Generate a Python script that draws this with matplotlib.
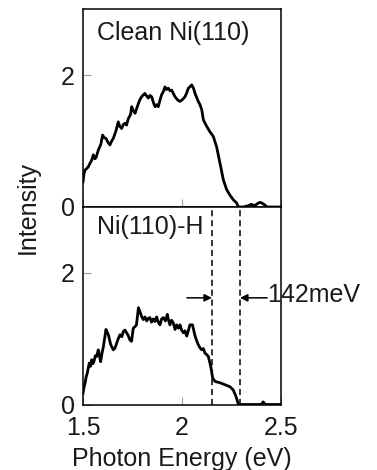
import numpy as np
import matplotlib
matplotlib.use("Agg")
import matplotlib.pyplot as plt

# spectra (photon energy in eV, intensity arb. units)
clean_energy = [1.500, 1.505, 1.510, 1.518, 1.527, 1.535, 1.544, 1.552, 1.560, 1.566,
                1.577, 1.590, 1.599, 1.607, 1.616, 1.626, 1.636, 1.645, 1.653, 1.666,
                1.678, 1.686, 1.695, 1.704, 1.712, 1.720, 1.729, 1.740, 1.746, 1.754,
                1.763, 1.772, 1.780, 1.788, 1.796, 1.805, 1.813, 1.822, 1.830, 1.838,
                1.847, 1.856, 1.864, 1.872, 1.880, 1.889, 1.897, 1.906, 1.914, 1.922,
                1.931, 1.940, 1.948, 1.956, 1.965, 1.978, 1.990, 2.003, 2.015, 2.024,
                2.032, 2.040, 2.049, 2.058, 2.066, 2.082, 2.091, 2.100, 2.108, 2.125,
                2.141, 2.158, 2.175, 2.192, 2.209, 2.226, 2.242, 2.259, 2.276, 2.285,
                2.310, 2.335, 2.350, 2.367, 2.385, 2.397, 2.414, 2.430, 2.500]
clean_intensity = [0.38, 0.50, 0.56, 0.58, 0.61, 0.66, 0.71, 0.79, 0.73, 0.75,
                   0.86, 0.95, 1.09, 1.05, 1.04, 0.98, 0.94, 1.00, 1.04, 1.15,
                   1.29, 1.22, 1.19, 1.25, 1.27, 1.24, 1.34, 1.40, 1.52, 1.46,
                   1.42, 1.50, 1.57, 1.63, 1.67, 1.70, 1.72, 1.68, 1.65, 1.69,
                   1.67, 1.58, 1.52, 1.55, 1.52, 1.62, 1.70, 1.75, 1.82, 1.78,
                   1.80, 1.76, 1.77, 1.72, 1.67, 1.62, 1.60, 1.63, 1.67, 1.73,
                   1.80, 1.82, 1.85, 1.80, 1.72, 1.60, 1.55, 1.47, 1.32, 1.22,
                   1.14, 1.07, 0.91, 0.66, 0.41, 0.26, 0.18, 0.11, 0.06, 0.00,
                   0.00, 0.02, 0.04, 0.02, 0.06, 0.07, 0.04, 0.00, 0.00]

h_energy = [1.500, 1.505, 1.510, 1.516, 1.522, 1.527, 1.532, 1.538, 1.544, 1.550,
            1.556, 1.562, 1.569, 1.577, 1.583, 1.589, 1.596, 1.603, 1.610, 1.616,
            1.622, 1.628, 1.640, 1.653, 1.662, 1.670, 1.678, 1.687, 1.696, 1.704,
            1.712, 1.720, 1.728, 1.737, 1.745, 1.754, 1.762, 1.770, 1.780, 1.785,
            1.790, 1.797, 1.805, 1.813, 1.822, 1.830, 1.838, 1.846, 1.855, 1.863,
            1.872, 1.880, 1.889, 1.897, 1.906, 1.916, 1.926, 1.932, 1.939, 1.947,
            1.956, 1.965, 1.973, 1.982, 1.990, 1.998, 2.007, 2.015, 2.024, 2.032,
            2.040, 2.053, 2.066, 2.074, 2.082, 2.091, 2.100, 2.108, 2.116, 2.124,
            2.133, 2.145, 2.155, 2.167, 2.192, 2.217, 2.242, 2.259, 2.273, 2.285,
            2.400, 2.410, 2.420, 2.500]
h_intensity = [0.17, 0.26, 0.32, 0.42, 0.48, 0.56, 0.63, 0.58, 0.68, 0.62,
               0.66, 0.74, 0.73, 0.83, 0.74, 0.65, 0.78, 0.88, 1.02, 1.14,
               1.10, 1.06, 0.91, 0.83, 0.86, 0.93, 1.00, 1.06, 1.03, 1.11,
               1.13, 1.09, 1.05, 0.98, 0.96, 1.16, 1.18, 1.21, 1.47, 1.43,
               1.39, 1.33, 1.29, 1.33, 1.27, 1.31, 1.32, 1.25, 1.30, 1.26,
               1.33, 1.25, 1.21, 1.30, 1.32, 1.27, 1.37, 1.28, 1.21, 1.28,
               1.24, 1.14, 1.21, 1.16, 1.21, 1.13, 1.09, 1.12, 1.04, 1.12,
               1.21, 1.21, 1.04, 0.97, 0.91, 0.86, 0.83, 0.85, 0.78, 0.76,
               0.73, 0.58, 0.40, 0.35, 0.33, 0.30, 0.27, 0.22, 0.12, 0.00,
               0.00, 0.04, 0.00, 0.00]

edges = [2.151, 2.293]      # onset of the two spectra
shift_label = "142meV"
x_ticks = [1.5, 2, 2.5]
x_ticklabels = ["1.5", "2", "2.5"]
y_ticks = [0, 2]

plt.rcParams["font.family"] = ["Liberation Sans", "DejaVu Sans"]
fs = 18

fig = plt.figure(figsize=(3.77, 4.70), dpi=100)
left, width = 83 / 377, 198 / 377
ax_top = fig.add_axes([left, 1 - 207 / 470, width, 198 / 470])
ax_bot = fig.add_axes([left, 1 - 404.5 / 470, width, 197.5 / 470])

for ax in (ax_top, ax_bot):
    ax.set_xlim(1.5, 2.5)
    ax.set_ylim(0, 3)
    ax.set_xticks(x_ticks)
    ax.set_yticks(y_ticks)
    ax.tick_params(direction="in", length=6, width=0.8, color="#a0a0a0",
                   labelsize=fs, labelcolor="#1a1a1a", pad=6)
    for sp in ax.spines.values():
        sp.set_linewidth(1.1)

ax_top.tick_params(axis="x", labelbottom=False)
ax_bot.set_xticklabels(x_ticklabels)
ax_bot.tick_params(axis="x", pad=8)

ax_top.plot(clean_energy, clean_intensity, color="k", lw=2)
ax_bot.plot(h_energy, h_intensity, color="k", lw=2)

ax_top.text(1.57, 2.64, "Clean Ni(110)", fontsize=fs, va="center", color="#1a1a1a")
ax_bot.text(1.57, 2.70, "Ni(110)-H", fontsize=fs, va="center", color="#1a1a1a")

for e in edges:
    ax_bot.axvline(e, color="k", lw=1.1, linestyle=(0, (4, 2.5)))

arrow_y = 1.62
ax_bot.annotate("", xy=(edges[0], arrow_y), xytext=(2.025, arrow_y),
                arrowprops=dict(arrowstyle="-|>", lw=1.1, color="k",
                                mutation_scale=11, shrinkA=0, shrinkB=0))
ax_bot.annotate("", xy=(edges[1], arrow_y), xytext=(2.43, arrow_y),
                arrowprops=dict(arrowstyle="-|>", lw=1.1, color="k",
                                mutation_scale=11, shrinkA=0, shrinkB=0))
ax_bot.text(2.43, 1.67, shift_label, fontsize=fs, va="center", ha="left",
            clip_on=False, color="#1a1a1a")

ax_bot.set_xlabel("Photon Energy (eV)", fontsize=fs, labelpad=5, color="#1a1a1a")
fig.text(28 / 377, 1 - 207 / 470, "Intensity", rotation=90, fontsize=fs,
         ha="center", va="center", color="#1a1a1a")

fig.savefig("out.png", dpi=100)
